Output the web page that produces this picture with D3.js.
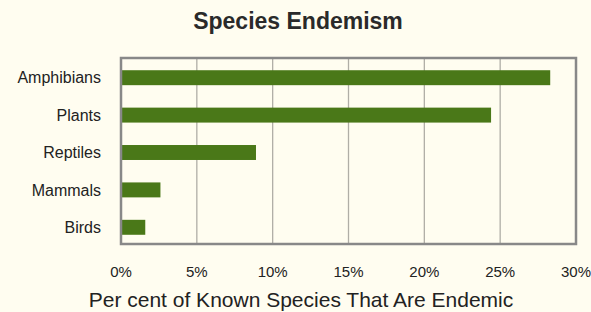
<!DOCTYPE html>
<html>
<head>
<meta charset="utf-8">
<script src="https://cdn.jsdelivr.net/npm/d3@7"></script>
<style>
  html, body { margin: 0; padding: 0; background: #fffdf0; }
  svg { display: block; font-family: Arial, "Liberation Sans", sans-serif; }
</style>
</head>
<body>
<div id="chart"></div>
<script>
// data
const species = ["Amphibians", "Plants", "Reptiles", "Mammals", "Birds"];
const endemicPct = [28.3, 24.4, 8.9, 2.6, 1.6];
const ticks = [0, 5, 10, 15, 20, 25, 30];

const dimension = {
    width: 591,
    height: 312,
    margin: { top: 58, right: 15, bottom: 68, left: 121 },
};
dimension.boundedWidth = dimension.width - dimension.margin.left - dimension.margin.right;
dimension.boundedHeight = dimension.height - dimension.margin.top - dimension.margin.bottom;

const svg = d3.select("#chart")
    .append("svg")
    .attr("width", dimension.width)
    .attr("height", dimension.height);

svg.append("rect")
    .attr("width", dimension.width)
    .attr("height", dimension.height)
    .attr("fill", "#fffdf0");

const bounds = svg.append("g")
    .attr("transform", `translate(${dimension.margin.left},${dimension.margin.top})`);

// scales
const xScale = d3.scaleLinear()
    .domain([0, 30])
    .range([0, dimension.boundedWidth]);

const yScale = d3.scaleBand()
    .domain(species)
    .range([1, dimension.boundedHeight + 2])
    .paddingInner(0.6)
    .paddingOuter(0.3);

// gridlines
bounds.selectAll(".grid")
    .data(ticks.slice(1, -1))
    .enter()
    .append("line")
    .attr("x1", d => xScale(d))
    .attr("x2", d => xScale(d))
    .attr("y1", 0)
    .attr("y2", dimension.boundedHeight)
    .attr("stroke", "#b0aea6")
    .attr("stroke-width", 1.3);

// bars
bounds.selectAll(".bar")
    .data(species)
    .enter()
    .append("rect")
    .attr("x", xScale(0))
    .attr("y", d => yScale(d))
    .attr("width", (d, i) => xScale(endemicPct[i]) - xScale(0))
    .attr("height", yScale.bandwidth())
    .attr("fill", "#4a7818");

// frame
bounds.append("rect")
    .attr("x", 0)
    .attr("y", 0)
    .attr("width", dimension.boundedWidth)
    .attr("height", dimension.boundedHeight)
    .attr("fill", "none")
    .attr("stroke", "#888888")
    .attr("stroke-width", 2.5);

// category labels
bounds.selectAll(".cat")
    .data(species)
    .enter()
    .append("text")
    .attr("x", -20)
    .attr("y", d => yScale(d) + yScale.bandwidth() / 2)
    .attr("dy", "0.35em")
    .attr("text-anchor", "end")
    .attr("font-size", 16)
    .attr("fill", "#222")
    .text(d => d);

// x tick labels
bounds.selectAll(".tick")
    .data(ticks)
    .enter()
    .append("text")
    .attr("x", d => xScale(d))
    .attr("y", 277 - dimension.margin.top)
    .attr("text-anchor", "middle")
    .attr("font-size", 15)
    .attr("fill", "#222")
    .text(d => d + "%");

// title
svg.append("text")
    .attr("x", 298)
    .attr("y", 29)
    .attr("text-anchor", "middle")
    .attr("font-size", 23)
    .attr("font-weight", "bold")
    .attr("fill", "#2a2a2a")
    .text("Species Endemism");

// axis title
svg.append("text")
    .attr("x", 301)
    .attr("y", 307)
    .attr("text-anchor", "middle")
    .attr("font-size", 21)
    .attr("fill", "#222")
    .text("Per cent of Known Species That Are Endemic");
</script>
</body>
</html>
